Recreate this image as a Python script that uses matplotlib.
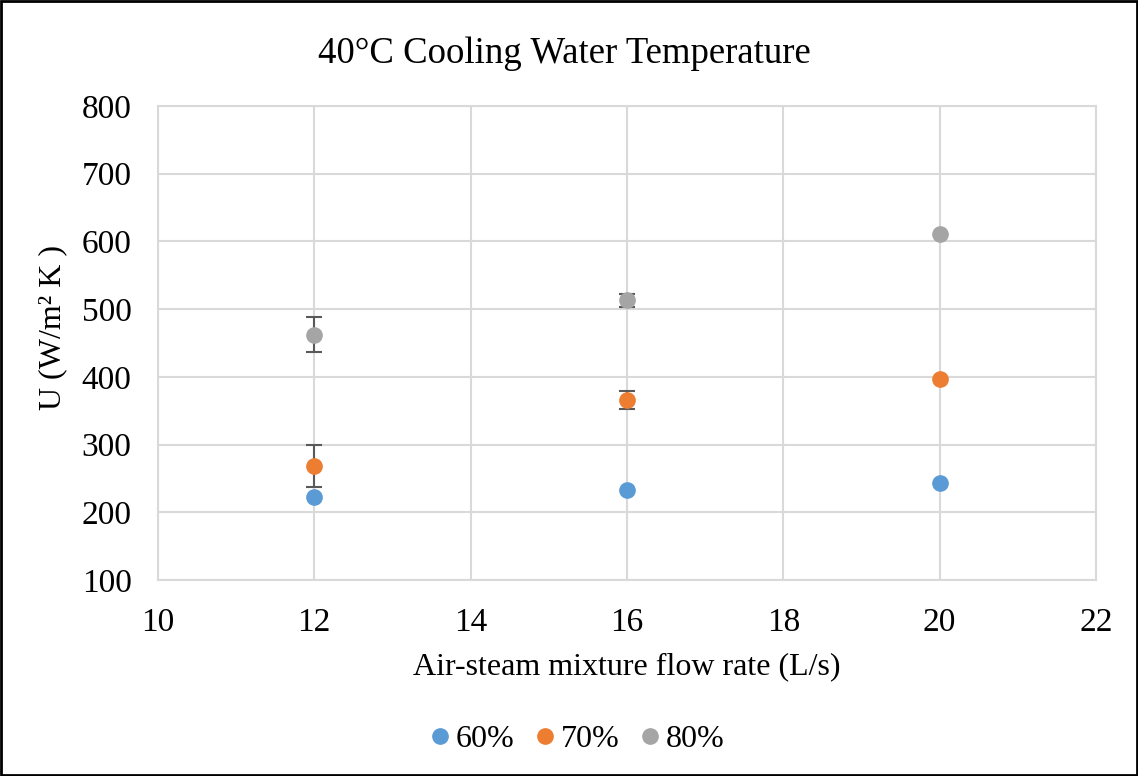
import matplotlib.pyplot as plt

plt.rcParams['font.family'] = ['Liberation Serif', 'DejaVu Serif']

flow = [12, 16, 20]
u60 = [222, 233, 243]
u70 = [268, 366, 397]
u80 = [462, 513, 611]
err60 = [0, 0, 0]
err70 = [31, 13, 0]
err80 = [26, 10, 0]

fig = plt.figure(figsize=(11.38, 7.76), dpi=100)
ax = fig.add_axes([0.1388, 0.2526, 0.8243, 0.6108])

series = [('60%', u60, err60, '#5b9bd5'),
          ('70%', u70, err70, '#ed7d31'),
          ('80%', u80, err80, '#a5a5a5')]
for label, vals, err, col in series:
    ax.plot(flow, vals, 'o', color=col, markersize=11, label=label, zorder=3)
    # only draw error bars where there is one
    xs = [f for f, e in zip(flow, err) if e > 0]
    ys = [v for v, e in zip(vals, err) if e > 0]
    es = [e for e in err if e > 0]
    if es:
        ax.errorbar(xs, ys, yerr=es, fmt='none', ecolor='#595959',
                    elinewidth=1.5, capsize=6, capthick=1.5, zorder=2)

ax.set_xlim(10, 22)
ax.set_ylim(100, 800)
ax.set_xticks(range(10, 23, 2))
ax.set_yticks(range(100, 801, 100))
ax.grid(True, color='#d9d9d9', linewidth=1.5)
ax.set_axisbelow(True)
for s in ax.spines.values():
    s.set_color('#d9d9d9')
    s.set_linewidth(1.5)
ax.tick_params(length=0, labelsize=24)
ax.tick_params(axis='x', pad=20)
ax.tick_params(axis='y', pad=19)

ax.set_title('40°C Cooling Water Temperature', fontsize=26.5, pad=31, x=0.433)
ax.set_xlabel('Air-steam mixture flow rate (L/s)', fontsize=23)
ax.set_ylabel('U (W/m² K )', fontsize=23)
ax.xaxis.set_label_coords(0.5, -0.152)
ax.yaxis.set_label_coords(-0.097, 0.532)

fig.legend(loc='center', bbox_to_anchor=(0.507, 0.047), ncol=3,
           frameon=False, fontsize=23, handletextpad=0.15, columnspacing=0.6,
           markerscale=1.0, handlelength=0.7)

fig.patches.append(plt.Rectangle((0.001, 0.001), 0.998, 0.998, transform=fig.transFigure,
                                 fill=False, edgecolor='black', linewidth=2))

fig.savefig('out.png', dpi=100)
